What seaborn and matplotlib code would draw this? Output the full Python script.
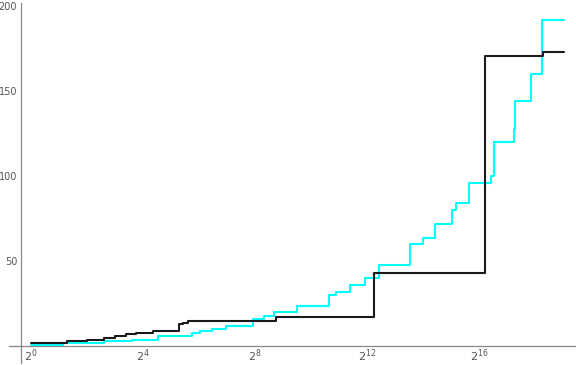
import numpy as np
import pandas as pd
import matplotlib
matplotlib.use("Agg")
import matplotlib.pyplot as plt
import seaborn as sns
from matplotlib.ticker import FixedLocator, FixedFormatter, NullFormatter

# ---- data (x positions given as base-2 exponents) ----
black_exp = [0, 1.3, 2.0, 2.6, 3.0, 3.4, 3.75, 4.37, 5.28, 5.42, 5.62, 8.74, 12.23, 16.2, 18.27, 19.04]
black_val = [2, 3, 4, 5, 6, 7, 8, 9, 13, 14, 15, 17, 43, 171, 173, 173]

cyan_exp = [0, 1.15, 2.6, 3.6, 4.55, 5.74, 6.04, 6.45, 6.95, 7.92, 8.32, 8.68, 9.49, 10.64, 10.89,
            11.39, 11.94, 12.43, 13.54, 13.98, 14.43, 15.02, 15.18, 15.65, 16.42, 16.54, 17.25,
            17.29, 17.85, 18.24, 19.04]
cyan_val = [1, 2, 3, 4, 6, 8, 9, 10, 12, 16, 18, 20, 24, 30, 32, 36, 40, 48, 60, 64, 72, 80, 84,
            96, 100, 120, 128, 144, 160, 192, 192]

x_tick_exps = [0, 4, 8, 12, 16]
x_tick_labels = [r"$2^{0}$", r"$2^{4}$", r"$2^{8}$", r"$2^{12}$", r"$2^{16}$"]
y_ticks = [50, 100, 150, 200]

black_df = pd.DataFrame({"x": [2.0 ** e for e in black_exp], "y": black_val})
cyan_df = pd.DataFrame({"x": [2.0 ** e for e in cyan_exp], "y": cyan_val})

sns.set_style("white")
plt.rcParams["font.family"] = ["DejaVu Sans"]

fig = plt.figure(figsize=(5.76, 3.65), dpi=100)
ax = fig.add_axes([9 / 576, 2 / 365, 567 / 576, 360 / 365])

sns.lineplot(data=cyan_df, x="x", y="y", ax=ax, color="#00FFFF", linewidth=1.5,
             drawstyle="steps-post", estimator=None, sort=False)
sns.lineplot(data=black_df, x="x", y="y", ax=ax, color="#1a1a1a", linewidth=1.5,
             drawstyle="steps-post", estimator=None, sort=False)

ax.set_xscale("log", base=2)
ax.set_xlim(2 ** -0.786, 2 ** 19.46)
ax.set_ylim(-9.8, 201.9)

ax.spines["left"].set_position(("data", 2 ** -0.37))
ax.spines["bottom"].set_position(("data", 0))
ax.spines["top"].set_visible(False)
ax.spines["right"].set_visible(False)
for s in ("left", "bottom"):
    ax.spines[s].set_color("#888888")
    ax.spines[s].set_linewidth(0.9)

ax.xaxis.set_major_locator(FixedLocator([2.0 ** e for e in x_tick_exps]))
ax.xaxis.set_major_formatter(FixedFormatter(x_tick_labels))
ax.xaxis.set_minor_locator(FixedLocator([2.0 ** e for e in (2, 6, 10, 14, 18)]))
ax.xaxis.set_minor_formatter(NullFormatter())
ax.yaxis.set_major_locator(FixedLocator(y_ticks))
ax.yaxis.set_minor_locator(FixedLocator([v for v in range(10, 201, 10) if v not in y_ticks]))
ax.yaxis.set_minor_formatter(NullFormatter())

ax.tick_params(axis="both", which="major", direction="in", length=4, width=0.8,
               color="#888888", labelcolor="#555555", labelsize=7)
ax.tick_params(axis="both", which="minor", direction="in", length=2.2, width=0.7,
               color="#888888")
ax.tick_params(axis="x", which="major", pad=1, labelsize=8)
ax.tick_params(axis="y", which="major", pad=2.5)

ax.set_xlabel("")
ax.set_ylabel("")
ax.grid(False)
for lbl in ax.get_yticklabels():
    lbl.set_clip_on(False)

fig.savefig("out.png", dpi=100)
